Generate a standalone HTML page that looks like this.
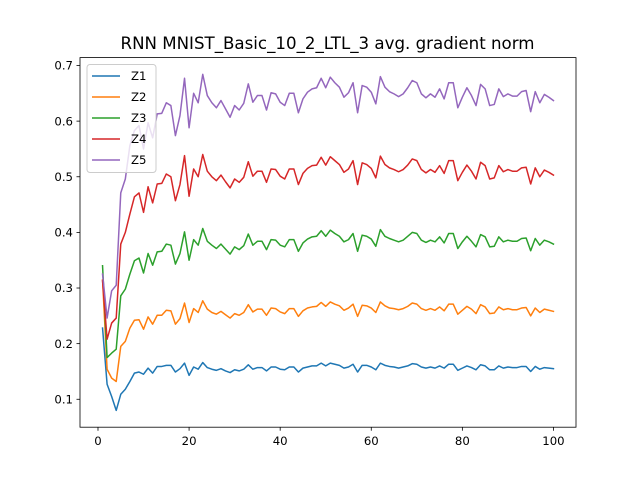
<!DOCTYPE html>
<html><head><meta charset="utf-8"><style>
body{margin:0;background:#fff;}
svg{display:block;font-family:"DejaVu Sans","Liberation Sans",sans-serif;}
</style></head><body>
<svg id="chart" width="640" height="480" viewBox="0 0 640 480">
<rect width="640" height="480" fill="#fff"/>
<text x="327.5" y="49" font-size="16.5" text-anchor="middle" textLength="414" lengthAdjust="spacingAndGlyphs" fill="#000">RNN MNIST_Basic_10_2_LTL_3 avg. gradient norm</text>
<g id="series"></g>
<g id="axes"></g>
<g id="legend"></g>
</svg>
<script>
const xTicks=[0,20,40,60,80,100];
const yTicks=[0.1,0.2,0.3,0.4,0.5,0.6,0.7];
const yTickLabels=["0.1","0.2","0.3","0.4","0.5","0.6","0.7"];
const seriesNames=["Z1","Z2","Z3","Z4","Z5"];
const z1=[.228,.127,.105,.080,.109,.118,.132,.147,.149,.145,.156,.147,.159,.159,.161,.161,.149,.155,.165,
.143,.158,.154,.166,.157,.154,.152,.155,.151,.148,.153,.151,.154,.162,.154,.157,.157,.151,.158,.158,.154,.153,.158,.158,.149,.156,.158,.160,.160,.165,.160,.165,.163,.161,.156,.158,.163,.149,.161,.161,.158,.153,.165,.161,.159,.158,.156,.158,.160,.164,.163,.158,.156,.158,.156,.160,.156,.163,.163,.152,.156,.160,.157,.153,.162,.160,.153,.153,.160,.156,.158,.157,.157,.159,.159,.150,.159,.154,.157,.156,.155];
const z2=[.315,.154,.138,.132,.195,.204,.228,.242,.243,.226,.248,.235,.251,.251,.260,.259,.235,.245,.273,
.238,.263,.256,.277,.262,.256,.253,.258,.252,.246,.254,.251,.256,.270,.257,.262,.262,.251,.264,.263,.257,.254,.263,.263,.249,.259,.264,.266,.267,.274,.267,.275,.271,.268,.260,.264,.271,.249,.269,.268,.264,.256,.275,.268,.264,.263,.261,.263,.267,.273,.271,.263,.260,.263,.260,.266,.259,.271,.271,.253,.260,.267,.262,.254,.270,.266,.254,.255,.266,.261,.263,.261,.261,.264,.265,.250,.264,.256,.262,.260,.258];
const z3=[.340,.175,.183,.190,.286,.298,.325,.349,.354,.327,.362,.341,.365,.366,.379,.377,.343,.362,.401,
.350,.387,.377,.407,.384,.377,.371,.379,.370,.361,.374,.369,.376,.397,.377,.384,.384,.369,.387,.386,.377,.374,.387,.387,.366,.381,.388,.392,.393,.403,.393,.404,.398,.393,.383,.387,.398,.366,.395,.393,.388,.375,.405,.393,.389,.386,.383,.386,.393,.400,.398,.386,.382,.386,.383,.392,.381,.398,.398,.371,.383,.393,.384,.374,.396,.392,.374,.375,.392,.383,.386,.384,.384,.389,.390,.367,.389,.377,.386,.383,.379];
const z4=[.313,.208,.237,.246,.379,.400,.433,.464,.471,.436,.482,.453,.487,.488,.505,.500,.457,.486,.538,
.465,.514,.500,.540,.510,.500,.493,.503,.491,.480,.496,.490,.499,.527,.501,.510,.510,.490,.514,.513,.501,.496,.514,.514,.486,.506,.515,.520,.521,.535,.521,.536,.529,.522,.508,.514,.529,.486,.525,.522,.515,.498,.537,.522,.516,.513,.509,.513,.521,.532,.529,.513,.507,.513,.508,.520,.506,.529,.529,.493,.508,.521,.510,.496,.526,.520,.496,.498,.520,.509,.513,.510,.510,.516,.517,.487,.516,.500,.512,.508,.503];
const z5=[.325,.246,.295,.305,.471,.496,.556,.583,.592,.550,.597,.570,.613,.614,.633,.628,.574,.610,.677,
.588,.650,.633,.684,.646,.633,.624,.637,.622,.607,.628,.620,.632,.667,.634,.646,.646,.620,.651,.649,.634,.628,.650,.650,.615,.640,.652,.658,.660,.677,.660,.679,.669,.661,.643,.651,.669,.615,.664,.661,.652,.631,.680,.661,.653,.649,.644,.649,.660,.673,.669,.649,.642,.649,.643,.658,.640,.669,.669,.624,.643,.660,.646,.628,.666,.658,.628,.630,.658,.644,.649,.645,.645,.653,.655,.617,.653,.633,.648,.643,.637];
const allSeries=[z1,z2,z3,z4,z5];
const colors=["#1f77b4","#ff7f0e","#2ca02c","#d62728","#9467bd"];
const NS="http://www.w3.org/2000/svg";
const L=80,R=576,T=57.6,B=427.2;
let n=z1.length;
let xmin=1-(n-1)*0.05,xmax=n+(n-1)*0.05;
let flat=allSeries.flat();
let dmin=Math.min(...flat),dmax=Math.max(...flat),pad=(dmax-dmin)*0.05;
let ymin=dmin-pad,ymax=dmax+pad;
function xs(v){return L+(v-xmin)/(xmax-xmin)*(R-L);}
function ys(v){return B-(v-ymin)/(ymax-ymin)*(B-T);}
function mk(tag,attrs,parent){const e=document.createElementNS(NS,tag);for(const k in attrs)e.setAttribute(k,attrs[k]);parent.appendChild(e);return e;}
const sg=document.getElementById('series');
allSeries.forEach((s,i)=>{
  const d=s.map((v,j)=>(j?'L':'M')+xs(j+1).toFixed(2)+','+ys(v).toFixed(2)).join('');
  const p=mk('path',{d:d,fill:'none',stroke:colors[i],'stroke-width':1.5,'stroke-linejoin':'round','stroke-linecap':'square'},sg);
  
  
});
const ag=document.getElementById('axes');
const fr=mk('rect',{x:L,y:T,width:R-L,height:B-T,fill:'none',stroke:'#000','stroke-width':0.8},ag);


xTicks.forEach(t=>{
  const x=xs(t);
  const tl=mk('line',{x1:x,x2:x,y1:B,y2:B+3.5,stroke:'#000','stroke-width':0.8},ag);
  
  
  const tx=mk('text',{x:x,y:B+18,'font-size':11.7,'text-anchor':'middle'},ag);
  tx.textContent=t;
  
  
});
yTicks.forEach((t,i)=>{
  const y=ys(t);
  const tl=mk('line',{x1:L-3.5,x2:L,y1:y,y2:y,stroke:'#000','stroke-width':0.8},ag);
  
  
  const tx=mk('text',{x:L-7,y:y+4.2,'font-size':11.7,'text-anchor':'end'},ag);
  tx.textContent=yTickLabels[i];
  
  
});
const lg=document.getElementById('legend');
const lb=mk('rect',{x:87,y:64.5,width:69,height:108,rx:3,fill:'#fff','fill-opacity':0.8,stroke:'#ccc','stroke-width':1},lg);


seriesNames.forEach((nm,i)=>{
  const y=76+i*21;
  const ln=mk('line',{x1:92,x2:120,y1:y,y2:y,stroke:colors[i],'stroke-width':1.5},lg);
  
  
  const tx=mk('text',{x:131,y:y+4.2,'font-size':11.7},lg);
  tx.textContent=nm;
  
  
});
</script>
</body></html>
